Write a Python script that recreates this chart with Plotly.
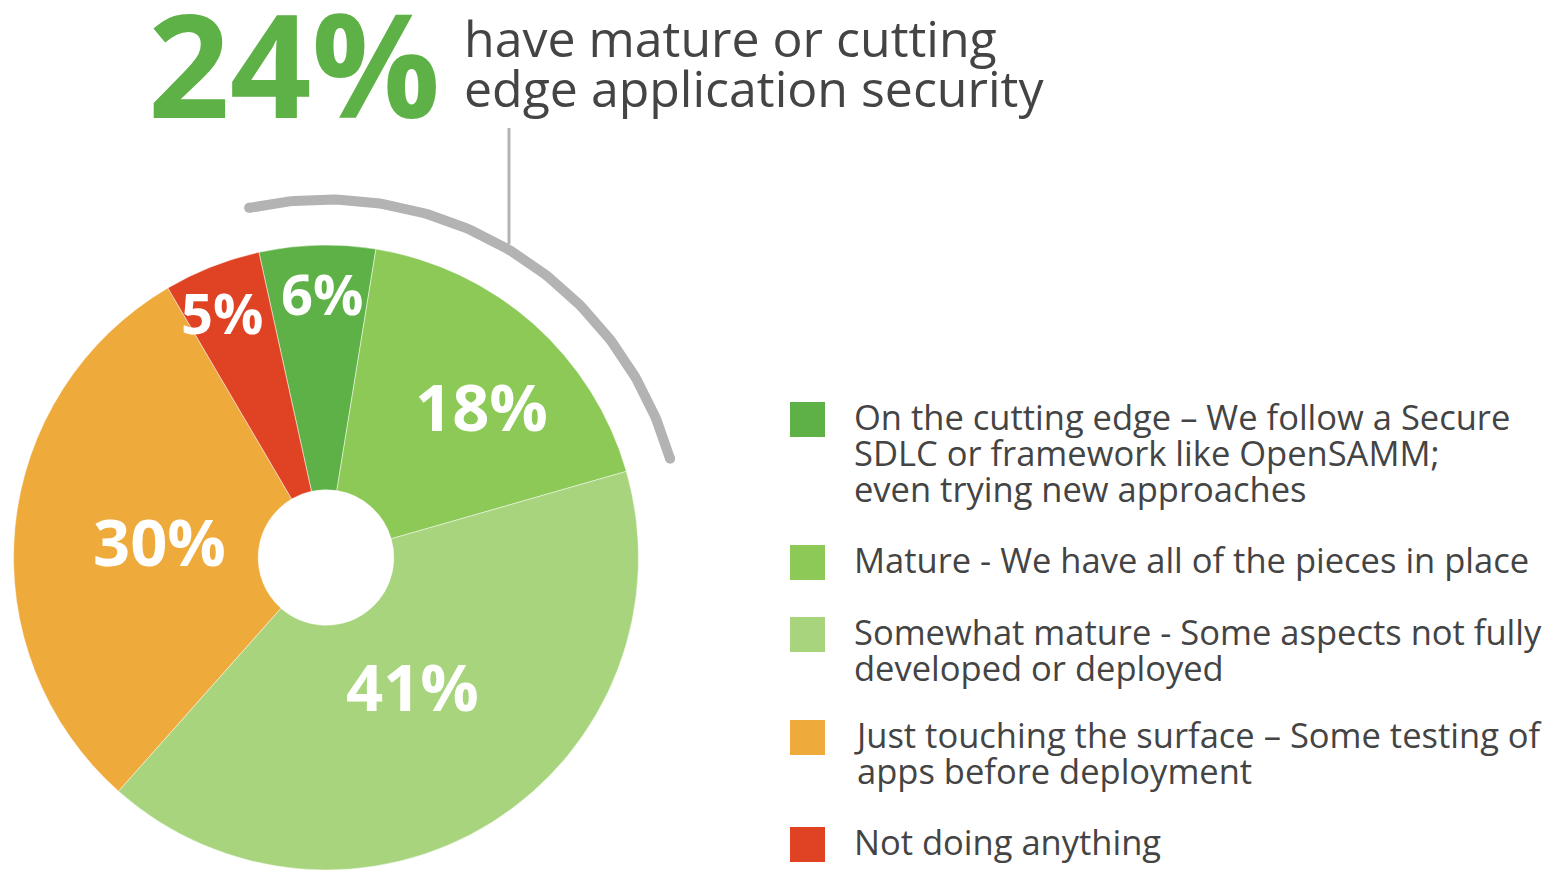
import numpy as np
import plotly.graph_objects as go

# data
categories = [
    "On the cutting edge \u2013 We follow a Secure<br>SDLC or framework like OpenSAMM;<br>even trying new approaches",
    "Mature - We have all of the pieces in place",
    "Somewhat mature - Some aspects not fully<br>developed or deployed",
    "Just touching the surface \u2013 Some testing of<br>apps before deployment",
    "Not doing anything",
]
values = [6, 18, 41, 30, 5]
colors = ["#5eb146", "#8cc957", "#a7d47c", "#eeab3c", "#e04224"]
headline_value = values[0] + values[1]
headline_lines = ["have mature or cutting", "edge application security"]

# layout bits (pixels)
W, H = 1557, 870
cx, cy, R = 326, 557.5, 312.5
rotation = -12.4
label_r = [265, 217, 155, 167, 266]
label_shift = [0.8, 4, -1.5, 0, -1.5]   # degrees nudged off the slice middle
label_size = [56, 65, 65, 65, 56]
legend_y = [402, 545, 617, 720, 827]
FONT = "Open Sans"
GREY = "#444444"


def sized(lines, px):
    # glyphs drawn at px, line pitch set by the annotation's base font size
    return "<br>".join(f"<span style='font-size:{px}px'>{s}</span>" for s in lines)


fig = go.Figure()

fig.add_trace(go.Pie(
    values=values, labels=[c.replace("<br>", " ") for c in categories],
    marker=dict(colors=colors, line=dict(color="rgba(255,255,255,0.6)", width=0.8)),
    hole=0.217, sort=False, direction="clockwise", rotation=rotation,
    textinfo="none", hoverinfo="label+percent", showlegend=False,
    domain=dict(x=[(cx - R) / W, (cx + R) / W], y=[0, 2 * R / H]),
))

# slice percentage labels
cum = np.cumsum([0] + values)
total = sum(values)
for i, v in enumerate(values):
    mid = np.radians(rotation + (cum[i] + v / 2) / total * 360 + label_shift[i])
    fig.add_annotation(
        x=cx + label_r[i] * np.sin(mid), y=cy - label_r[i] * np.cos(mid),
        text=f"<b>{v}%</b>", showarrow=False,
        font=dict(family=FONT, size=label_size[i], color="white"),
        xanchor="center", yanchor="middle",
    )

# grey arc over the top two slices
a0 = np.radians(rotation)
a1 = np.radians(rotation + headline_value / total * 360)
t = np.linspace(a0, a1, 120)
ar = 358
fig.add_trace(go.Scatter(
    x=cx + ar * np.sin(t), y=cy - ar * np.cos(t), mode="lines",
    line=dict(color="#b3b3b3", width=10), hoverinfo="skip", showlegend=False,
))
fig.add_trace(go.Scatter(
    x=[cx + ar * np.sin(a0), cx + ar * np.sin(a1)],
    y=[cy - ar * np.cos(a0), cy - ar * np.cos(a1)], mode="markers",
    marker=dict(color="#b3b3b3", size=10), hoverinfo="skip", showlegend=False,
))
fig.add_shape(type="line", x0=509, x1=509, y0=128, y1=244,
              line=dict(color="#b3b3b3", width=3))

# headline
fig.add_annotation(x=146, y=62, text=f"<b>{headline_value}%</b>", showarrow=False,
                   font=dict(family=FONT, size=143, color="#5eb146"),
                   xanchor="left", yanchor="middle")
fig.add_annotation(x=462, y=63, text=sized(headline_lines, 50), showarrow=False,
                   align="left", font=dict(family=FONT, size=50 / 1.3, color=GREY),
                   xanchor="left", yanchor="middle")

# legend
for i, cat in enumerate(categories):
    fig.add_shape(type="rect", x0=790, x1=825, y0=legend_y[i], y1=legend_y[i] + 35,
                  fillcolor=colors[i], line=dict(width=0))
    fig.add_annotation(x=852, y=legend_y[i] - 11, text=sized(cat.split("<br>"), 34.5),
                       showarrow=False, align="left",
                       font=dict(family=FONT, size=36 / 1.3, color=GREY),
                       xanchor="left", yanchor="top")

fig.update_layout(
    width=W, height=H, margin=dict(l=0, r=0, t=0, b=0),
    paper_bgcolor="white", plot_bgcolor="white",
    xaxis=dict(range=[0, W], visible=False, fixedrange=True),
    yaxis=dict(range=[H, 0], visible=False, fixedrange=True),
)

fig.write_html("out.html", config={"displayModeBar": False},
               post_script="document.body.style.margin='0px';")
